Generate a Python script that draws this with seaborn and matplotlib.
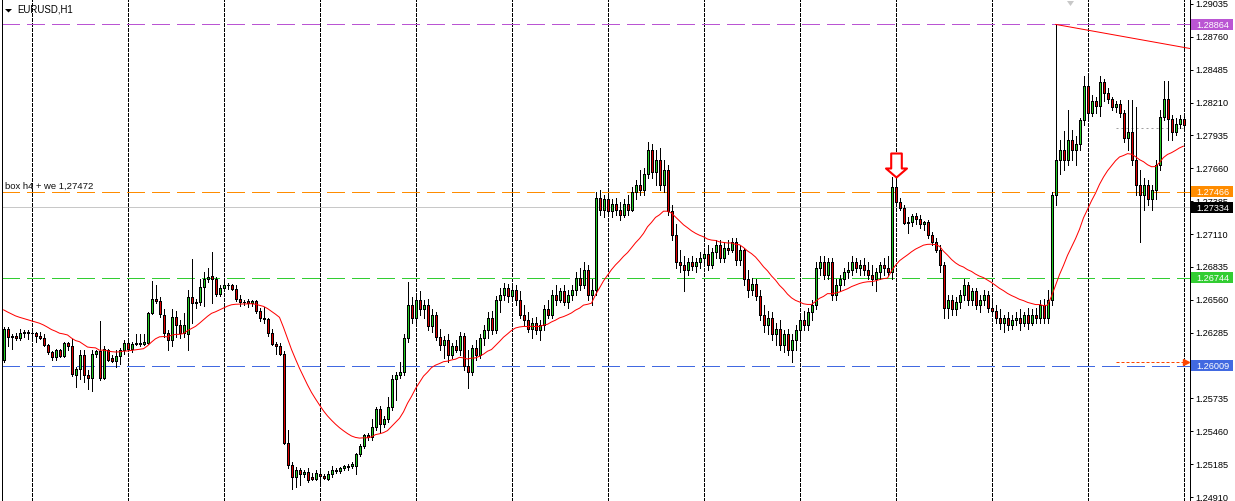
import numpy as np
import pandas as pd
import matplotlib
matplotlib.use("Agg")
import matplotlib.pyplot as plt
import matplotlib.transforms as mtransforms
from matplotlib.path import Path
from matplotlib.patches import Rectangle, Polygon
import seaborn as sns

# ---------------- data (EURUSD H1 candles) ----------------
open_ = [
1.2606, 1.2632, 1.2626, 1.2626, 1.2624, 1.2628, 1.2629, 1.2628, 1.2628, 1.2626,
1.2624, 1.2618, 1.2612, 1.2608, 1.2614, 1.2609, 1.2620, 1.2617, 1.2593, 1.2598,
1.2610, 1.2593, 1.2591, 1.2611, 1.2613, 1.2591, 1.2614, 1.2607, 1.2605, 1.2609,
1.2614, 1.2620, 1.2615, 1.2619, 1.2620, 1.2619, 1.2620, 1.2645, 1.2657, 1.2655,
1.2643, 1.2628, 1.2622, 1.2642, 1.2635, 1.2628, 1.2627, 1.2658, 1.2653, 1.2654,
1.2667, 1.2673, 1.2676, 1.2673, 1.2661, 1.2666, 1.2668, 1.2668, 1.2665, 1.2657,
1.2654, 1.2655, 1.2653, 1.2655, 1.2647, 1.2641, 1.2640, 1.2628, 1.2619, 1.2617,
1.2611, 1.2536, 1.2518, 1.2508, 1.2514, 1.2510, 1.2512, 1.2508, 1.2506, 1.2510,
1.2509, 1.2506, 1.2510, 1.2513, 1.2513, 1.2515, 1.2516, 1.2517, 1.2517, 1.2527,
1.2534, 1.2543, 1.2541, 1.2550, 1.2565, 1.2552, 1.2556, 1.2566, 1.2590, 1.2593,
1.2596, 1.2624, 1.2652, 1.2641, 1.2656, 1.2648, 1.2652, 1.2634, 1.2643, 1.2625,
1.2618, 1.2622, 1.2610, 1.2617, 1.2614, 1.2626, 1.2601, 1.2596, 1.2616, 1.2610,
1.2624, 1.2631, 1.2641, 1.2631, 1.2656, 1.2660, 1.2666, 1.2659, 1.2664, 1.2656,
1.2643, 1.2639, 1.2632, 1.2637, 1.2631, 1.2635, 1.2648, 1.2643, 1.2660, 1.2656,
1.2663, 1.2654, 1.2660, 1.2664, 1.2674, 1.2668, 1.2681, 1.2660, 1.2664, 1.2741,
1.2731, 1.2740, 1.2730, 1.2736, 1.2731, 1.2727, 1.2736, 1.2731, 1.2746, 1.2752,
1.2748, 1.2761, 1.2781, 1.2763, 1.2773, 1.2752, 1.2765, 1.2730, 1.2710, 1.2688,
1.2685, 1.2681, 1.2688, 1.2684, 1.2688, 1.2691, 1.2694, 1.2685, 1.2696, 1.2702,
1.2691, 1.2699, 1.2698, 1.2704, 1.2689, 1.2698, 1.2673, 1.2664, 1.2669, 1.2659,
1.2643, 1.2635, 1.2641, 1.2627, 1.2632, 1.2618, 1.2627, 1.2614, 1.2622, 1.2631,
1.2639, 1.2635, 1.2646, 1.2652, 1.2683, 1.2688, 1.2677, 1.2688, 1.2660, 1.2668,
1.2673, 1.2679, 1.2681, 1.2688, 1.2683, 1.2685, 1.2681, 1.2677, 1.2673, 1.2679,
1.2685, 1.2683, 1.2679, 1.2750, 1.2738, 1.2733, 1.2720, 1.2721, 1.2726, 1.2724,
1.2719, 1.2721, 1.2710, 1.2704, 1.2698, 1.2685, 1.2649, 1.2656, 1.2648, 1.2654,
1.2660, 1.2668, 1.2656, 1.2663, 1.2652, 1.2656, 1.2660, 1.2649, 1.2647, 1.2641,
1.2637, 1.2641, 1.2635, 1.2639, 1.2641, 1.2637, 1.2643, 1.2637, 1.2643, 1.2641,
1.2652, 1.2641, 1.2656, 1.2744, 1.2773, 1.2781, 1.2773, 1.2790, 1.2781, 1.2786,
1.2806, 1.2835, 1.2812, 1.2822, 1.2818, 1.2838, 1.2829, 1.2824, 1.2817, 1.2820,
1.2812, 1.2791, 1.2796, 1.2773, 1.2752, 1.2744, 1.2752, 1.2740, 1.2748, 1.2769,
1.2809, 1.2824, 1.2807, 1.2796, 1.2803, 1.2807]

high = [
1.2633, 1.2633, 1.2627, 1.2628, 1.2632, 1.2631, 1.2631, 1.2630, 1.2629, 1.2629,
1.2627, 1.2619, 1.2613, 1.2615, 1.2615, 1.2621, 1.2621, 1.2623, 1.2600, 1.2614,
1.2614, 1.2597, 1.2614, 1.2614, 1.2638, 1.2617, 1.2615, 1.2610, 1.2614, 1.2616,
1.2622, 1.2621, 1.2621, 1.2627, 1.2627, 1.2627, 1.2646, 1.2672, 1.2668, 1.2658,
1.2648, 1.2631, 1.2648, 1.2647, 1.2639, 1.2645, 1.2664, 1.2690, 1.2657, 1.2673,
1.2679, 1.2683, 1.2696, 1.2675, 1.2668, 1.2673, 1.2670, 1.2669, 1.2668, 1.2660,
1.2656, 1.2657, 1.2656, 1.2656, 1.2649, 1.2650, 1.2641, 1.2632, 1.2621, 1.2620,
1.2613, 1.2547, 1.2520, 1.2516, 1.2515, 1.2514, 1.2515, 1.2511, 1.2514, 1.2515,
1.2510, 1.2513, 1.2517, 1.2515, 1.2516, 1.2518, 1.2519, 1.2520, 1.2528, 1.2535,
1.2544, 1.2545, 1.2556, 1.2566, 1.2567, 1.2559, 1.2575, 1.2593, 1.2596, 1.2604,
1.2627, 1.2671, 1.2658, 1.2659, 1.2663, 1.2656, 1.2657, 1.2648, 1.2646, 1.2632,
1.2626, 1.2627, 1.2620, 1.2622, 1.2629, 1.2628, 1.2614, 1.2618, 1.2622, 1.2627,
1.2635, 1.2646, 1.2647, 1.2659, 1.2666, 1.2670, 1.2669, 1.2668, 1.2668, 1.2663,
1.2652, 1.2646, 1.2641, 1.2642, 1.2639, 1.2652, 1.2656, 1.2664, 1.2668, 1.2666,
1.2668, 1.2664, 1.2668, 1.2679, 1.2683, 1.2688, 1.2685, 1.2673, 1.2746, 1.2748,
1.2744, 1.2744, 1.2740, 1.2741, 1.2738, 1.2740, 1.2744, 1.2750, 1.2756, 1.2765,
1.2766, 1.2788, 1.2786, 1.2781, 1.2783, 1.2773, 1.2769, 1.2735, 1.2719, 1.2698,
1.2693, 1.2691, 1.2693, 1.2691, 1.2696, 1.2698, 1.2702, 1.2699, 1.2706, 1.2706,
1.2704, 1.2706, 1.2708, 1.2708, 1.2702, 1.2699, 1.2681, 1.2674, 1.2673, 1.2664,
1.2652, 1.2647, 1.2646, 1.2637, 1.2639, 1.2631, 1.2632, 1.2627, 1.2635, 1.2643,
1.2647, 1.2649, 1.2656, 1.2688, 1.2693, 1.2693, 1.2691, 1.2691, 1.2673, 1.2677,
1.2683, 1.2688, 1.2693, 1.2691, 1.2689, 1.2691, 1.2688, 1.2685, 1.2683, 1.2688,
1.2691, 1.2693, 1.2759, 1.2759, 1.2741, 1.2735, 1.2725, 1.2728, 1.2729, 1.2727,
1.2722, 1.2723, 1.2713, 1.2708, 1.2702, 1.2688, 1.2660, 1.2660, 1.2658, 1.2664,
1.2673, 1.2671, 1.2666, 1.2666, 1.2660, 1.2664, 1.2663, 1.2656, 1.2652, 1.2648,
1.2643, 1.2646, 1.2643, 1.2646, 1.2648, 1.2646, 1.2649, 1.2648, 1.2649, 1.2656,
1.2657, 1.2664, 1.2746, 1.2886, 1.2790, 1.2797, 1.2815, 1.2798, 1.2793, 1.2808,
1.2843, 1.2843, 1.2827, 1.2826, 1.2843, 1.2841, 1.2833, 1.2826, 1.2822, 1.2823,
1.2815, 1.2823, 1.2823, 1.2817, 1.2765, 1.2758, 1.2756, 1.2752, 1.2773, 1.2815,
1.2839, 1.2839, 1.2811, 1.2808, 1.2811, 1.2811]

low = [
1.2604, 1.2617, 1.2615, 1.2622, 1.2622, 1.2625, 1.2623, 1.2622, 1.2621, 1.2623,
1.2617, 1.2611, 1.2606, 1.2606, 1.2608, 1.2608, 1.2614, 1.2592, 1.2583, 1.2590,
1.2587, 1.2581, 1.2580, 1.2608, 1.2589, 1.2590, 1.2605, 1.2604, 1.2600, 1.2602,
1.2611, 1.2613, 1.2612, 1.2618, 1.2617, 1.2618, 1.2619, 1.2644, 1.2653, 1.2642,
1.2625, 1.2614, 1.2617, 1.2625, 1.2624, 1.2625, 1.2614, 1.2637, 1.2649, 1.2652,
1.2651, 1.2671, 1.2653, 1.2659, 1.2659, 1.2665, 1.2665, 1.2664, 1.2655, 1.2651,
1.2652, 1.2650, 1.2651, 1.2645, 1.2638, 1.2637, 1.2626, 1.2618, 1.2611, 1.2610,
1.2535, 1.2515, 1.2498, 1.2499, 1.2501, 1.2508, 1.2504, 1.2505, 1.2505, 1.2504,
1.2506, 1.2505, 1.2508, 1.2511, 1.2511, 1.2514, 1.2514, 1.2515, 1.2510, 1.2525,
1.2532, 1.2539, 1.2539, 1.2547, 1.2545, 1.2550, 1.2554, 1.2564, 1.2572, 1.2591,
1.2593, 1.2621, 1.2637, 1.2637, 1.2643, 1.2641, 1.2631, 1.2629, 1.2622, 1.2614,
1.2607, 1.2604, 1.2607, 1.2612, 1.2610, 1.2597, 1.2582, 1.2593, 1.2606, 1.2607,
1.2618, 1.2624, 1.2627, 1.2628, 1.2646, 1.2656, 1.2654, 1.2656, 1.2652, 1.2641,
1.2635, 1.2629, 1.2624, 1.2627, 1.2622, 1.2631, 1.2641, 1.2641, 1.2652, 1.2654,
1.2652, 1.2649, 1.2656, 1.2660, 1.2664, 1.2666, 1.2656, 1.2652, 1.2660, 1.2727,
1.2725, 1.2727, 1.2725, 1.2727, 1.2723, 1.2725, 1.2727, 1.2730, 1.2740, 1.2744,
1.2744, 1.2758, 1.2758, 1.2752, 1.2748, 1.2746, 1.2727, 1.2706, 1.2683, 1.2679,
1.2663, 1.2677, 1.2681, 1.2679, 1.2683, 1.2685, 1.2681, 1.2683, 1.2691, 1.2688,
1.2688, 1.2694, 1.2696, 1.2685, 1.2685, 1.2668, 1.2658, 1.2660, 1.2656, 1.2639,
1.2629, 1.2627, 1.2622, 1.2618, 1.2614, 1.2612, 1.2610, 1.2604, 1.2614, 1.2624,
1.2631, 1.2631, 1.2639, 1.2648, 1.2677, 1.2673, 1.2673, 1.2656, 1.2656, 1.2663,
1.2668, 1.2674, 1.2677, 1.2679, 1.2677, 1.2677, 1.2673, 1.2668, 1.2663, 1.2673,
1.2677, 1.2677, 1.2673, 1.2735, 1.2731, 1.2719, 1.2712, 1.2718, 1.2719, 1.2716,
1.2714, 1.2708, 1.2702, 1.2696, 1.2679, 1.2641, 1.2641, 1.2643, 1.2643, 1.2649,
1.2656, 1.2652, 1.2652, 1.2648, 1.2646, 1.2652, 1.2646, 1.2643, 1.2637, 1.2632,
1.2629, 1.2631, 1.2632, 1.2635, 1.2631, 1.2634, 1.2632, 1.2635, 1.2637, 1.2637,
1.2637, 1.2637, 1.2652, 1.2735, 1.2761, 1.2765, 1.2769, 1.2773, 1.2769, 1.2781,
1.2802, 1.2807, 1.2810, 1.2812, 1.2810, 1.2822, 1.2821, 1.2815, 1.2813, 1.2809,
1.2788, 1.2781, 1.2769, 1.2744, 1.2704, 1.2731, 1.2735, 1.2731, 1.2740, 1.2765,
1.2806, 1.2790, 1.2790, 1.2794, 1.2800, 1.2800]

close = [
1.2632, 1.2625, 1.2625, 1.2624, 1.2628, 1.2629, 1.2628, 1.2628, 1.2626, 1.2624,
1.2618, 1.2612, 1.2608, 1.2614, 1.2609, 1.2620, 1.2617, 1.2594, 1.2598, 1.2610,
1.2593, 1.2591, 1.2611, 1.2613, 1.2591, 1.2615, 1.2606, 1.2605, 1.2609, 1.2614,
1.2620, 1.2615, 1.2619, 1.2620, 1.2619, 1.2621, 1.2645, 1.2657, 1.2655, 1.2644,
1.2628, 1.2622, 1.2642, 1.2635, 1.2628, 1.2635, 1.2658, 1.2653, 1.2654, 1.2667,
1.2673, 1.2675, 1.2673, 1.2661, 1.2666, 1.2668, 1.2668, 1.2665, 1.2657, 1.2654,
1.2654, 1.2653, 1.2655, 1.2647, 1.2641, 1.2640, 1.2628, 1.2619, 1.2617, 1.2611,
1.2536, 1.2518, 1.2508, 1.2514, 1.2510, 1.2512, 1.2505, 1.2506, 1.2511, 1.2509,
1.2507, 1.2510, 1.2514, 1.2514, 1.2515, 1.2517, 1.2517, 1.2519, 1.2527, 1.2534,
1.2543, 1.2541, 1.2550, 1.2565, 1.2552, 1.2556, 1.2566, 1.2590, 1.2593, 1.2596,
1.2624, 1.2652, 1.2641, 1.2656, 1.2648, 1.2652, 1.2634, 1.2643, 1.2625, 1.2618,
1.2622, 1.2610, 1.2617, 1.2614, 1.2626, 1.2601, 1.2596, 1.2616, 1.2610, 1.2624,
1.2631, 1.2641, 1.2631, 1.2656, 1.2660, 1.2666, 1.2659, 1.2664, 1.2656, 1.2643,
1.2639, 1.2632, 1.2637, 1.2631, 1.2635, 1.2648, 1.2643, 1.2660, 1.2656, 1.2663,
1.2654, 1.2660, 1.2664, 1.2674, 1.2668, 1.2681, 1.2660, 1.2664, 1.2741, 1.2731,
1.2740, 1.2730, 1.2736, 1.2731, 1.2727, 1.2736, 1.2731, 1.2746, 1.2752, 1.2748,
1.2761, 1.2781, 1.2763, 1.2773, 1.2752, 1.2765, 1.2730, 1.2710, 1.2688, 1.2685,
1.2681, 1.2688, 1.2684, 1.2688, 1.2691, 1.2694, 1.2685, 1.2696, 1.2702, 1.2691,
1.2699, 1.2698, 1.2704, 1.2689, 1.2698, 1.2673, 1.2664, 1.2669, 1.2659, 1.2643,
1.2635, 1.2641, 1.2627, 1.2632, 1.2618, 1.2627, 1.2614, 1.2622, 1.2631, 1.2639,
1.2635, 1.2646, 1.2652, 1.2683, 1.2688, 1.2677, 1.2688, 1.2660, 1.2668, 1.2673,
1.2679, 1.2681, 1.2688, 1.2683, 1.2685, 1.2681, 1.2677, 1.2673, 1.2679, 1.2685,
1.2683, 1.2679, 1.2750, 1.2738, 1.2733, 1.2720, 1.2721, 1.2726, 1.2724, 1.2719,
1.2721, 1.2710, 1.2704, 1.2698, 1.2685, 1.2649, 1.2656, 1.2648, 1.2654, 1.2660,
1.2668, 1.2656, 1.2663, 1.2652, 1.2656, 1.2660, 1.2649, 1.2647, 1.2641, 1.2637,
1.2641, 1.2635, 1.2639, 1.2641, 1.2637, 1.2643, 1.2637, 1.2643, 1.2641, 1.2652,
1.2641, 1.2656, 1.2744, 1.2773, 1.2781, 1.2773, 1.2790, 1.2781, 1.2786, 1.2806,
1.2835, 1.2812, 1.2822, 1.2818, 1.2838, 1.2829, 1.2824, 1.2817, 1.2820, 1.2812,
1.2791, 1.2796, 1.2773, 1.2752, 1.2744, 1.2752, 1.2740, 1.2748, 1.2769, 1.2809,
1.2824, 1.2807, 1.2796, 1.2803, 1.2807, 1.2802]

assert len(open_) == len(high) == len(low) == len(close) == 296

ema_period = 24
ema_prev = 1.2649            # MA value just before the first visible bar

price_ticks = [1.29035, 1.28760, 1.28485, 1.28210, 1.27935, 1.27660, 1.27385, 1.27110,
               1.26835, 1.26560, 1.26285, 1.26010, 1.25735, 1.25460, 1.25185, 1.24910]
price_view = [1.24877, 1.29068]

levels = [1.28864, 1.27466, 1.26744, 1.26009]
level_colors = ["#BA55D3", "#FF8C00", "#32CD32", "#4169E1"]
bid_price = 1.27334
note_text = "box h4 + we 1,27472"
symbol_text = "EURUSD,H1"

trend_bars = [263, 295]
trend_prices = [1.28864, 1.28672]
signal_bar = 223
order_bar = 278
order_price = 1.2604
aux_price = 1.2800
separator_first = 7
bars_per_day = 24

# ---------------- figure ----------------
sns.set_style("white")
plt.rcParams["font.family"] = ["Liberation Sans", "DejaVu Sans"]

W, H = 1235, 501
BAR_PX = 4
AX_L, AX_R = 2, 1190
fig = plt.figure(figsize=(W / 100, H / 100), dpi=100, facecolor="white")
ax = fig.add_axes([AX_L / W, 0, (AX_R - AX_L) / W, 1])
ax.set_facecolor("white")
x0 = -0.375
ax.set_xlim(x0, x0 + (AX_R - AX_L) / BAR_PX)
ax.set_ylim(*price_view)

px_y = (price_view[1] - price_view[0]) / H      # price per pixel
ax_w = AX_R - AX_L
LW = 0.72

df = pd.DataFrame({"open": open_, "high": high, "low": low, "close": close})
xs = np.arange(len(df))
up = (df["close"] >= df["open"]).values

# day separators
for s in range(separator_first, len(df), bars_per_day):
    ax.axvline(s, color="black", lw=LW, dashes=(3, 2), zorder=1, antialiased=False)

# horizontal levels
ax.axhline(bid_price, color="#C8C8C8", lw=LW, zorder=1, antialiased=False)
for lv, col in zip(levels, level_colors):
    ax.axhline(lv, color=col, lw=LW, dashes=(17, 7), zorder=1, antialiased=False)

# candles
ax.vlines(xs, df["low"], df["high"], color="black", lw=LW, zorder=3, antialiased=False)
body_lo = np.minimum(df["open"], df["close"])
body_h = (df["close"] - df["open"]).abs()
ax.bar(xs, body_h, bottom=body_lo, width=0.5,
       color=np.where(up, "#22CC22", "#DD0000"), edgecolor="black",
       linewidth=LW, zorder=4, antialiased=False)

# moving average (EMA of closes)
k = 2 / (ema_period + 1)
ema = []
e = ema_prev
for c in df["close"]:
    e = e + k * (c - e)
    ema.append(e)
sns.lineplot(x=xs, y=ema, ax=ax, color="red", linewidth=LW, zorder=5, legend=False)

# trend line (ray to the right edge)
slope = (trend_prices[1] - trend_prices[0]) / (trend_bars[1] - trend_bars[0])
x_end = ax.get_xlim()[1]
ax.plot([trend_bars[0], x_end],
        [trend_prices[0], trend_prices[0] + slope * (x_end - trend_bars[0])],
        color="red", lw=LW, zorder=5)

# signal arrow above the signal bar's high (tip at origin)
arrow_path = Path([(0, 0), (10.5, 9), (5.3, 9), (5.3, 24), (-5.3, 24), (-5.3, 9),
                   (-10.5, 9), (0, 0)],
                  [Path.MOVETO] + [Path.LINETO] * 6 + [Path.CLOSEPOLY])
ax.plot([signal_bar], [df["high"][signal_bar]], marker=arrow_path,
        ms=24 * 0.72 * 2, mfc="white", mec="red", mew=1.5, ls="none", zorder=6)

# order arrow line and grey dotted line
ax.plot([order_bar, x_end - 0.9], [order_price, order_price], color="#FF4500",
        lw=LW, dashes=(3, 2), zorder=5)
ax.plot([x_end - 0.9], [order_price], marker=">", ms=4.5, color="#FF4500",
        mec="#FF4500", ls="none", zorder=5)
ax.plot([order_bar, x_end - 1.5], [aux_price, aux_price], color="#A0A0A0",
        lw=LW, dashes=(2, 3), zorder=2)

# price scale on the right
ax.yaxis.tick_right()
ax.set_yticks(price_ticks)
ax.set_yticklabels([f"{t:.5f}" for t in price_ticks])
ax.tick_params(axis="y", direction="out", length=2.2, width=LW, pad=1.6,
               labelsize=6.6, colors="black")
ax.set_xticks([])
for side in ["top", "bottom"]:
    ax.spines[side].set_visible(False)
for side in ["left", "right"]:
    ax.spines[side].set_visible(True)
    ax.spines[side].set_color("black")
    ax.spines[side].set_linewidth(LW)

blend = mtransforms.blended_transform_factory(ax.transAxes, ax.transData)
box_h = 11 * px_y
for lv, col in list(zip(levels, level_colors)) + [(bid_price, "black")]:
    ax.add_patch(Rectangle((1 + 1 / ax_w, lv - box_h / 2), 42 / ax_w, box_h,
                           transform=blend, facecolor=col, edgecolor="none",
                           clip_on=False, zorder=10))
    ax.text(1 + 6 / ax_w, lv, f"{lv:.5f}", transform=blend, color="white",
            fontsize=6.6, va="center_baseline", ha="left", clip_on=False, zorder=11)

# object description text
ax.annotate(note_text, xy=(0, levels[1]), xycoords=blend, xytext=(3, 2.5),
            textcoords="offset pixels", fontsize=6.8, color="#101010",
            va="baseline", ha="left", zorder=7)

# header
fig.text(17 / W, 1 - 13 / H, symbol_text, fontsize=6.9, color="black",
         va="baseline", ha="left")
fig.add_artist(Polygon([[5, H - 9], [12, H - 9], [8.5, H - 12.5]], closed=True,
                       transform=None, facecolor="black", edgecolor="none"))
# chart-shift marker
fig.add_artist(Polygon([[1067, H - 1], [1074, H - 1], [1070.5, H - 6]], closed=True,
                       transform=None, facecolor="#C8C8C8", edgecolor="none"))

fig.savefig("out.png", dpi=100, facecolor="white")
